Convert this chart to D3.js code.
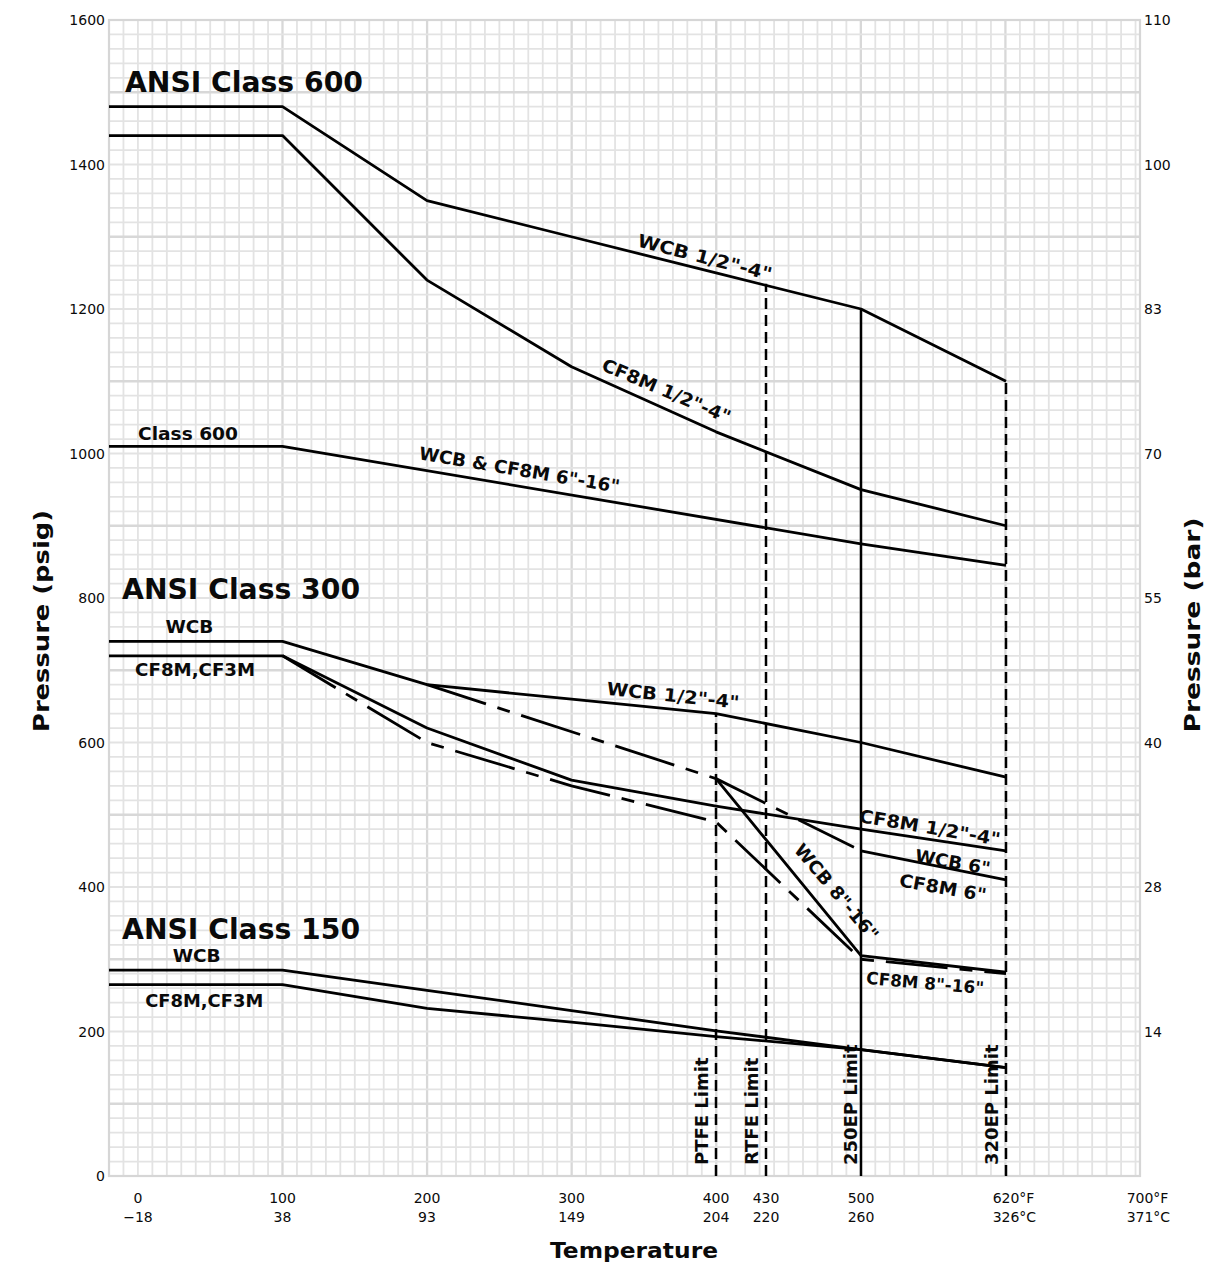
<!DOCTYPE html>
<html>
<head>
<meta charset="utf-8">
<script src="https://cdnjs.cloudflare.com/ajax/libs/d3/7.8.5/d3.min.js"></script>
<style>
  body { margin: 0; background: #fff; }
  text { font-family: "DejaVu Sans", Verdana, sans-serif; fill: #0a0a0a; }
</style>
</head>
<body>
<div id="chart"></div>
<script>
// temperature ticks, °F on the first row and °C below
const tempTicks = [0, 100, 200, 300, 400, 430, 500, 620, 700];
const tempLabelsF = ["0", "100", "200", "300", "400", "430", "500", "620", "700"];
const tempLabelsC = ["\u221218", "38", "93", "149", "204", "220", "260", "326", "371"];

// pressure ticks: psig on the left, bar on the right
const psiTicks = [0, 200, 400, 600, 800, 1000, 1200, 1400, 1600];
const barLabels = ["", "14", "28", "40", "55", "70", "83", "100", "110"];

// rating curves, [temperature °F, pressure psig]
const c600WCB = [[-20, 1480], [100, 1480], [200, 1350], [300, 1300], [400, 1250], [500, 1200], [620, 1100]];
const c600CF8M = [[-20, 1440], [100, 1440], [200, 1240], [300, 1120], [400, 1030], [500, 950], [620, 900]];
const c600Large = [[-20, 1010], [100, 1010], [500, 875], [620, 845]];

const c300WCB = [[-20, 740], [100, 740], [200, 680], [300, 660], [400, 640], [500, 600], [620, 552]];
const c300WCB6 = [[200, 680], [400, 550], [500, 450]];
const c300Six = [[500, 450], [620, 410]];
const c300WCB816 = [[400, 550], [500, 305], [620, 282]];
const c300CF8M = [[-20, 720], [100, 720], [200, 620], [300, 548], [400, 512], [500, 480], [620, 450]];
const c300CF8MLarge = [[100, 720], [200, 600], [300, 540], [400, 490], [500, 300], [620, 280]];

const c150WCB = [[-20, 285], [100, 285], [200, 257], [300, 229], [400, 201], [500, 175], [620, 150]];
const c150CF8M = [[-20, 265], [100, 265], [200, 232], [300, 213], [400, 193], [500, 175], [620, 150]];

// seal limits: [temperature, top pressure, label, dashed]
const limits = [
  [400, 640, "PTFE Limit", true],
  [430, 1235, "RTFE Limit", true],
  [500, 1200, "250EP Limit", false],
  [620, 1100, "320EP Limit", true]
];

const width = 1231, height = 1265;

const svg = d3.select("#chart").append("svg")
  .attr("width", width)
  .attr("height", height);

// the temperature axis is not linear: 620 sits where 600 would be
const x = d3.scaleLinear()
  .domain([-20, 0, 400, 430, 500, 620, 700])
  .range([109, 138, 716, 766, 861, 1006, 1140]);
// uniform grid paper, 10 units per cell
const gx = d3.scaleLinear().domain([-20, 700]).range([109, 1150]);
const y = d3.scaleLinear().domain([0, 1600]).range([1176, 20]);

const plotLeft = x(-20), plotRight = x(700), plotTop = y(1600), plotBottom = y(0);

// grid
const grid = svg.append("g");
d3.range(-10, 692, 10).forEach(u => {
  const major = u > 0 && u % 100 === 0;
  grid.append("line")
    .attr("x1", gx(u)).attr("x2", gx(u))
    .attr("y1", plotTop).attr("y2", plotBottom)
    .attr("stroke", major ? "#d8d8d8" : "#e3e3e3")
    .attr("stroke-width", major ? 2.3 : 1.8);
});
d3.range(20, 1600, 20).forEach(p => {
  const major = p % 200 === 100;
  grid.append("line")
    .attr("x1", plotLeft).attr("x2", plotRight)
    .attr("y1", y(p)).attr("y2", y(p))
    .attr("stroke", major ? "#d8d8d8" : "#e3e3e3")
    .attr("stroke-width", major ? 2.3 : 1.8);
});
grid.append("rect")
  .attr("x", plotLeft).attr("y", plotTop)
  .attr("width", plotRight - plotLeft).attr("height", plotBottom - plotTop)
  .attr("fill", "none")
  .attr("stroke", "#d6d6d6")
  .attr("stroke-width", 2.2);

// left and right tick labels
psiTicks.forEach((p, i) => {
  svg.append("text")
    .attr("x", plotLeft - 4).attr("y", y(p) + 5)
    .attr("text-anchor", "end")
    .style("font-size", "14px")
    .text(p);
  if (barLabels[i]) {
    svg.append("text")
      .attr("x", plotRight + 4).attr("y", y(p) + 5)
      .style("font-size", "14px")
      .text(barLabels[i]);
  }
});

// bottom tick labels, units hang to the right of the number
tempTicks.forEach((t, i) => {
  const rows = [[tempLabelsF[i], "\u00b0F", 1203], [tempLabelsC[i], "\u00b0C", 1222]];
  rows.forEach(([num, unit, ty]) => {
    const n = svg.append("text")
      .attr("x", x(t)).attr("y", ty)
      .attr("text-anchor", "middle")
      .style("font-size", "14px")
      .text(num);
    if (t >= 620) {
      const w = n.node().getComputedTextLength();
      svg.append("text")
        .attr("x", x(t) + w / 2).attr("y", ty)
        .style("font-size", "14px")
        .text(unit);
    }
  });
});

// axis titles
svg.append("text")
  .attr("transform", `translate(49,${(plotTop + plotBottom) / 2 + 23}) rotate(-90)`)
  .attr("text-anchor", "middle")
  .attr("textLength", 222).attr("lengthAdjust", "spacingAndGlyphs")
  .style("font-size", "22px").style("font-weight", "bold")
  .text("Pressure (psig)");
svg.append("text")
  .attr("transform", `translate(1200,${(plotTop + plotBottom) / 2 + 27}) rotate(-90)`)
  .attr("text-anchor", "middle")
  .attr("textLength", 215).attr("lengthAdjust", "spacingAndGlyphs")
  .style("font-size", "22px").style("font-weight", "bold")
  .text("Pressure (bar)");
svg.append("text")
  .attr("x", 634).attr("y", 1258)
  .attr("text-anchor", "middle")
  .attr("textLength", 168).attr("lengthAdjust", "spacingAndGlyphs")
  .style("font-size", "22px").style("font-weight", "bold")
  .text("Temperature");

// limit lines with their labels
limits.forEach(([t, p, label, dashed]) => {
  svg.append("line")
    .attr("x1", x(t)).attr("x2", x(t))
    .attr("y1", plotBottom).attr("y2", y(p))
    .attr("stroke", "#000")
    .attr("stroke-width", 2.5)
    .attr("stroke-dasharray", dashed ? "11,6" : null);
  svg.append("text")
    .attr("transform", `translate(${x(t) - (t === 500 ? 4 : 8)},${plotBottom - 11}) rotate(-90)`)
    .style("font-size", "18px").style("font-weight", "bold")
    .text(label);
});

// curves
const line = d3.line().x(d => x(d[0])).y(d => y(d[1]));
const curves = [
  [c600WCB, null], [c600CF8M, null], [c600Large, null],
  [c300WCB, null], [c300WCB6, "62,12,13,12"], [c300Six, null],
  [c300WCB816, null], [c300CF8M, null], [c300CF8MLarge, "62,12,13,12"],
  [c150WCB, null], [c150CF8M, null]
];
curves.forEach(([data, dash]) => {
  svg.append("path")
    .datum(data)
    .attr("d", line)
    .attr("fill", "none")
    .attr("stroke", "#000")
    .attr("stroke-width", 2.8)
    .attr("stroke-linejoin", "round")
    .attr("stroke-dasharray", dash);
});

// curve labels: [text, temperature, pressure, size, angle, length]
const labels = [
  ["ANSI Class 600", -9, 1500, 28, 0, 238],
  ["Class 600", 0, 1019, 17, 0, 100],
  ["WCB 1/2\"-4\"", 345, 1287, 18, 14.5, 138],
  ["CF8M 1/2\"-4\"", 320, 1116, 18, 23, 138],
  ["WCB & CF8M 6\"-16\"", 194, 992, 18, 9.5, 203],
  ["ANSI Class 300", -11, 799, 28, 0, 238],
  ["WCB", 19, 752, 18, 0, 48],
  ["CF8M,CF3M", -2, 692, 18, 0, 120],
  ["WCB 1/2\"-4\"", 324, 666, 18, 6, 133],
  ["CF8M 1/2\"-4\"", 498, 490, 18, 9.5, 143],
  ["WCB 6\"", 544, 435, 18, 10, 76],
  ["CF8M 6\"", 531, 401, 18, 10, 88],
  ["WCB 8\"-16\"", 450, 451, 18, 50, 120],
  ["CF8M 8\"-16\"", 504, 266, 17, 5, 118],
  ["ANSI Class 150", -11, 328, 28, 0, 238],
  ["WCB", 24, 296, 18, 0, 48],
  ["CF8M,CF3M", 5, 234, 18, 0, 118]
];
labels.forEach(([txt, t, p, size, angle, len]) => {
  svg.append("text")
    .attr("transform", `translate(${x(t)},${y(p)}) rotate(${angle})`)
    .attr("textLength", len).attr("lengthAdjust", "spacingAndGlyphs")
    .style("font-size", size + "px").style("font-weight", "bold")
    .text(txt);
});
</script>
</body>
</html>
